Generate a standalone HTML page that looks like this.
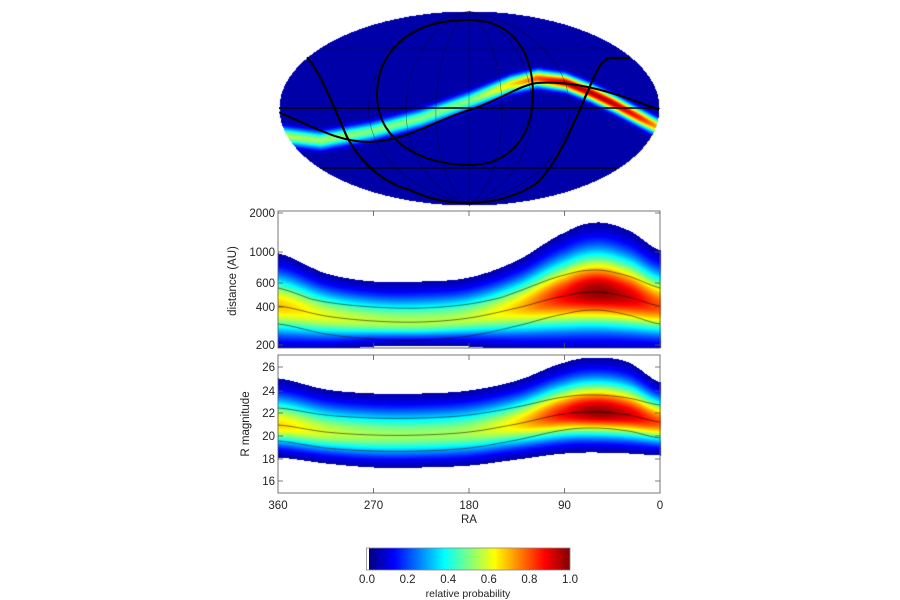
<!DOCTYPE html>
<html><head><meta charset="utf-8"><style>
body{margin:0;background:#fff;width:900px;height:600px;overflow:hidden;font-family:"Liberation Sans",sans-serif}
canvas{position:absolute;left:0;top:0}
svg{position:absolute;left:0;top:0}
</style></head><body>
<canvas id="c" width="900" height="600"></canvas>
<svg width="900" height="600" viewBox="0 0 900 600">
<defs>
<clipPath id="ell"><ellipse cx="469" cy="108" rx="190" ry="97"/></clipPath>
<linearGradient id="jet" x1="0" x2="1">
<stop offset="0" stop-color="#000080"/><stop offset="0.125" stop-color="#0000ff"/>
<stop offset="0.375" stop-color="#00ffff"/><stop offset="0.625" stop-color="#ffff00"/>
<stop offset="0.875" stop-color="#ff0000"/><stop offset="1" stop-color="#800000"/></linearGradient>
</defs>
<g clip-path="url(#ell)" fill="none" stroke="#000">
<g stroke-width="0.6" opacity="0.5">
<path d="M469 11 V205"/><path d="M469 11 C430 40 420 170 469 205"/><path d="M469 11 C508 40 518 170 469 205"/>
<path d="M469 11 C390 40 380 170 469 205"/><path d="M469 11 C548 40 558 170 469 205"/>
<path d="M469 11 C340 40 330 170 469 205"/><path d="M469 11 C598 40 608 170 469 205"/>
<path d="M280 48 H660"/>
</g>
<path d="M278 108 H660" stroke-width="1.6"/>
<path d="M278 168 H660" stroke-width="1.2"/>
<path d="M278 112 C320 130 340 142 370 142 C410 140 440 118 470 110 C500 100 520 85 537 83 C580 80 620 95 660 110" stroke-width="2"/>
<path d="M469 20 C400 20 377 60 377 95 C377 140 420 165 469 165 C515 165 533 130 533 95 C533 55 515 20 469 20" stroke-width="2"/>
<path d="M305 55 C320 70 335 110 347 137 C365 170 390 185 410 190 C430 200 450 203 470 203 C495 203 520 195 537 183 C560 160 575 120 587 93 C595 75 600 60 610 58 L630 58" stroke-width="2.2"/>
</g>
<g fill="none" stroke="#555" stroke-width="0.8">
<rect x="278" y="211" width="382" height="137"/>
<rect x="278" y="355" width="382" height="138"/>
</g>
<g stroke="#555" stroke-width="0.8">
<path d="M278 213h5M278 252h5M278 283h5M278 307h5M278 345h5M660 213h-5M660 252h-5M660 283h-5M660 307h-5M660 345h-5"/>
<path d="M278 367h5M278 391h5M278 413h5M278 436h5M278 459h5M278 481h5M660 367h-5M660 391h-5M660 413h-5M660 436h-5M660 459h-5M660 481h-5"/>
<path d="M373.5 493v-5M469 493v-5M564.5 493v-5M373.5 355v5M469 355v5M564.5 355v5M373.5 348v-5M469 348v-5M564.5 348v-5M373.5 211v5M469 211v5M564.5 211v5"/>
</g>
<g font-size="11.5" fill="#222" text-anchor="end">
<text x="275" y="217">2000</text><text x="275" y="256">1000</text><text x="275" y="287">600</text><text x="275" y="311">400</text><text x="275" y="349">200</text>
<text x="275" y="371">26</text><text x="275" y="395">24</text><text x="275" y="417">22</text><text x="275" y="440">20</text><text x="275" y="463">18</text><text x="275" y="485">16</text>
</g>
<g font-size="11.5" fill="#222" text-anchor="middle">
<text x="278" y="509">360</text><text x="373.5" y="509">270</text><text x="469" y="509">180</text><text x="564.5" y="509">90</text><text x="660" y="509">0</text>
<text x="469" y="523">RA</text>
<text transform="translate(236 281) rotate(-90)">distance (AU)</text>
<text transform="translate(249 424) rotate(-90)">R magnitude</text>
<text x="367" y="583">0.0</text><text x="407.6" y="583">0.2</text><text x="448.2" y="583">0.4</text><text x="488.8" y="583">0.6</text><text x="529.4" y="583">0.8</text><text x="570" y="583">1.0</text>
<text x="468" y="597" font-size="10.5">relative probability</text>
</g>
<rect x="369" y="548" width="201" height="22" fill="url(#jet)"/>
<rect x="366.5" y="548" width="203.5" height="22" fill="none" stroke="#888" stroke-width="0.8"/>
</svg>
<script>
function jet(v){v=Math.max(0,Math.min(1,v));
function f(x){return Math.max(0,Math.min(1,x));}
return [f(1.5-Math.abs(4*v-3))*255,f(1.5-Math.abs(4*v-2))*255,f(1.5-Math.abs(4*v-1))*255];}
var cv=document.getElementById('c'),ctx=cv.getContext('2d');
var img=ctx.createImageData(900,600),d=img.data;
for(var i=0;i<d.length;i+=4){d[i]=d[i+1]=d[i+2]=255;d[i+3]=255;}
function put(x,y,c){var k=(y*900+x)*4;d[k]=c[0];d[k+1]=c[1];d[k+2]=c[2];}
// Catmull-Rom-ish smooth interpolation over points in descending ra
function interp(p,ra){var n=p.length;for(var i=0;i<n-1;i++){if(ra<=p[i][0]&&ra>=p[i+1][0]){var t=(p[i][0]-ra)/(p[i][0]-p[i+1][0]);
var p0=p[Math.max(0,i-1)][1],p1=p[i][1],p2=p[i+1][1],p3=p[Math.min(n-1,i+2)][1];
var t2=t*t,t3=t2*t;return 0.5*((2*p1)+(-p0+p2)*t+(2*p0-5*p1+4*p2-p3)*t2+(-p0+3*p1-3*p2+p3)*t3);}}return p[n-1][1];}
function panel(y0,y1,C,U,L,A){
for(var x=278;x<=660;x++){var ra=360*(660-x)/382;
var c=interp(C,ra),u=interp(U,ra),l=interp(L,ra),a=interp(A,ra);
var k=Math.log(a/0.04);
for(var y=y0;y<=y1;y++){var dd,E;if(y<c){dd=c-y;E=c-u;}else{dd=y-c;E=l-c;}
if(dd>E)continue;var r=dd/E;var v=a*Math.exp(-k*r*r);put(x,y,jet(v));}}}
var C1=[[360,306],[315,316],[270,321],[225,322],[180,318],[135,308],[90,296],[60,292],[30,297],[0,306]];
panel(212,347,C1,
[[360,253],[315,273],[270,281],[225,281],[180,277],[135,260],[90,232],[60,222],[30,230],[0,250]],
[[360,352],[315,350],[270,346],[225,345],[180,346],[135,350],[90,352],[60,352],[30,352],[0,352]],
[[360,0.68],[315,0.6],[270,0.56],[225,0.55],[180,0.57],[135,0.68],[90,0.88],[60,0.98],[30,0.92],[0,0.8]]);
var C2=[[360,425],[315,432],[270,435],[225,435],[180,432],[135,424],[90,414],[60,412],[30,415],[0,422]];
panel(356,492,C2,
[[360,378],[315,389],[270,393],[225,393],[180,390],[135,380],[90,362],[60,357],[30,362],[0,382]],
[[360,457],[315,463],[270,467],[225,467],[180,465],[135,459],[90,453],[60,452],[30,453],[0,455]],
[[360,0.66],[315,0.58],[270,0.54],[225,0.53],[180,0.55],[135,0.66],[90,0.88],[60,0.98],[30,0.92],[0,0.8]]);
// map
var cx=469,cy=108,rx=190,ry=97;
var MC=[[280,135],[320,140],[370,131],[420,118],[470,100],[510,84],[537,78],[565,82],[590,92],[615,104],[637,116],[660,128]];
var MA=[[280,0.55],[370,0.5],[470,0.5],[510,0.65],[537,0.8],[570,0.95],[610,0.95],[640,0.85],[660,0.7]];
function lin(p,x){for(var i=0;i<p.length-1;i++){if(x>=p[i][0]&&x<=p[i+1][0]){var t=(x-p[i][0])/(p[i+1][0]-p[i][0]);return p[i][1]+(p[i+1][1]-p[i][1])*t;}}return x<p[0][0]?p[0][1]:p[p.length-1][1];}
for(var y=10;y<=206;y++)for(var x=278;x<=660;x++){var q=((x-cx)/rx)*((x-cx)/rx)+((y-cy)/ry)*((y-cy)/ry);if(q>1)continue;
var c=lin(MC,x),a=lin(MA,x),dd=Math.abs(y-c)/14;var v=0.04;
if(dd<1)v=Math.max(0.04,a*Math.exp(-Math.log(a/0.04)*dd*dd));put(x,y,jet(v));}
ctx.putImageData(img,0,0);
ctx.strokeStyle='rgba(0,0,0,0.65)';ctx.lineWidth=0.8;
function cl(pts,fn){ctx.beginPath();for(var x=278;x<=660;x++){var ra=360*(660-x)/382,y=fn(interp(pts,ra),ra);if(x==278)ctx.moveTo(x,y);else ctx.lineTo(x,y);}ctx.stroke();}
cl(C1,function(c){return c;});cl(C1,function(c,ra){return c-14-8*Math.max(0,Math.cos((ra-60)*Math.PI/180));});cl(C1,function(c){return c+18;});
cl(C2,function(c){return c;});cl(C2,function(c){return c-17;});cl(C2,function(c){return c+16;});
</script>
</body></html>
